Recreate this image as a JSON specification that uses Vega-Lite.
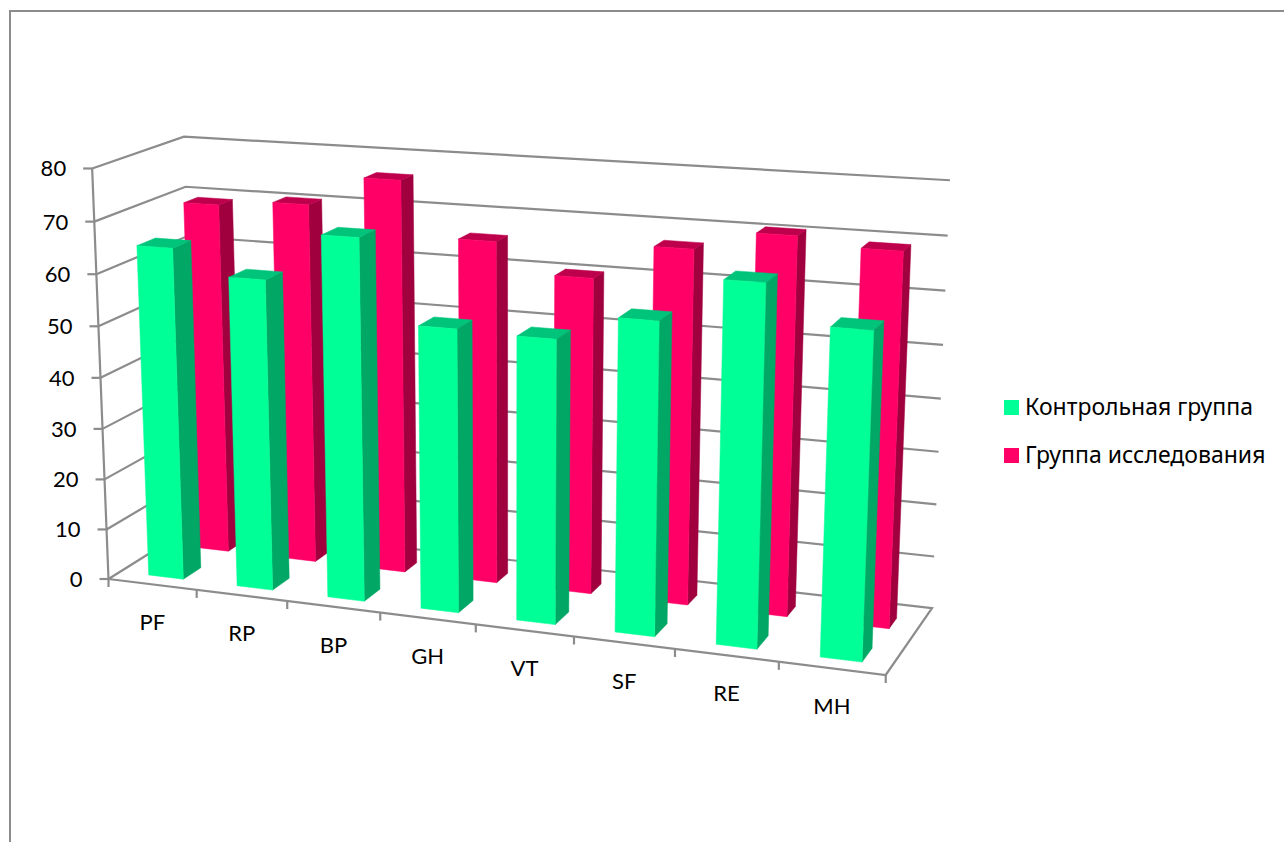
{
  "$schema": "https://vega.github.io/schema/vega-lite/v6.json",
  "width": 1280,
  "height": 840,
  "padding": {"left": 10, "top": 11, "right": 0, "bottom": 0},
  "autosize": {"type": "none"},
  "background": "#ffffff",
  "view": {"stroke": "#8c8c8c", "strokeWidth": 2, "fill": "#ffffff"},
  "datasets": {
    "scores": [
      {"cat": "PF", "idx": 0, "group": "Группа исследования", "value": 69.7},
      {"cat": "RP", "idx": 1, "group": "Группа исследования", "value": 70.9},
      {"cat": "BP", "idx": 2, "group": "Группа исследования", "value": 76.7},
      {"cat": "GH", "idx": 3, "group": "Группа исследования", "value": 66.3},
      {"cat": "VT", "idx": 4, "group": "Группа исследования", "value": 60.7},
      {"cat": "SF", "idx": 5, "group": "Группа исследования", "value": 67.4},
      {"cat": "RE", "idx": 6, "group": "Группа исследования", "value": 71.1},
      {"cat": "MH", "idx": 7, "group": "Группа исследования", "value": 69.6},
      {"cat": "PF", "idx": 0, "group": "Контрольная группа", "value": 64.9},
      {"cat": "RP", "idx": 1, "group": "Контрольная группа", "value": 60.2},
      {"cat": "BP", "idx": 2, "group": "Контрольная группа", "value": 69.4},
      {"cat": "GH", "idx": 3, "group": "Контрольная группа", "value": 53.9},
      {"cat": "VT", "idx": 4, "group": "Контрольная группа", "value": 53.5},
      {"cat": "SF", "idx": 5, "group": "Контрольная группа", "value": 58.3},
      {"cat": "RE", "idx": 6, "group": "Контрольная группа", "value": 66.5},
      {"cat": "MH", "idx": 7, "group": "Контрольная группа", "value": 59.6}
    ],
    "valueTicks": [
      {"value": 0}, {"value": 10}, {"value": 20}, {"value": 30}, {"value": 40},
      {"value": 50}, {"value": 60}, {"value": 70}, {"value": 80}
    ],
    "categoryTicks": [
      {"boundary": 0}, {"boundary": 1}, {"boundary": 2}, {"boundary": 3}, {"boundary": 4},
      {"boundary": 5}, {"boundary": 6}, {"boundary": 7}, {"boundary": 8}
    ]
  },
  "encoding": {
    "x": {"field": "screenX", "type": "quantitative", "axis": null, "scale": {"domain": [10, 1290], "range": [0, 1280], "nice": false, "zero": false}},
    "y": {"field": "screenY", "type": "quantitative", "axis": null, "scale": {"domain": [11, 851], "range": [0, 840], "nice": false, "zero": false}}
  },
  "layer": [
    {
      "description": "Wall gridlines; the zero line also closes the floor outline",
      "data": {"name": "valueTicks"},
      "transform": [
        {"calculate": "datum.value == 0 ? [[0,0,0],[1,0,1],[2,1,1],[3,1,0],[4,0,0]] : [[0,0,0],[1,0,1],[2,1,1]]", "as": "pt"},
        {"flatten": ["pt"]},
        {"calculate": "datum.pt[0]", "as": "n"},
        {"calculate": "datum.pt[1]", "as": "s"},
        {"calculate": "datum.pt[2]", "as": "t"},
        {"calculate": "datum.value/80", "as": "z"},
        {"calculate": "(108.5+685.1*datum.s+99.75*datum.t-19.95*datum.z)/(1-0.104*datum.s+0.0625*datum.t-0.0391*datum.z)", "as": "screenX"},
        {"calculate": "(579+25.8*datum.s-22*datum.t-417.1*datum.z)/(1-0.104*datum.s+0.0625*datum.t-0.0391*datum.z)", "as": "screenY"}
      ],
      "mark": {"type": "line", "stroke": "#8c8c8c", "strokeWidth": 2.2},
      "encoding": {"detail": {"field": "value"}, "order": {"field": "n"}}
    },
    {
      "description": "Value axis line",
      "data": {"name": "valueTicks"},
      "transform": [
        {"calculate": "(108.5-19.95*datum.value/80)/(1-0.0391*datum.value/80)", "as": "screenX"},
        {"calculate": "(579-417.1*datum.value/80)/(1-0.0391*datum.value/80)", "as": "screenY"}
      ],
      "mark": {"type": "line", "stroke": "#8c8c8c", "strokeWidth": 2.2},
      "encoding": {"order": {"field": "value"}}
    },
    {
      "description": "Value axis tick marks",
      "data": {"name": "valueTicks"},
      "transform": [
        {"calculate": "[0,1]", "as": "n"},
        {"flatten": ["n"]},
        {"calculate": "(108.5-19.95*datum.value/80)/(1-0.0391*datum.value/80)-9*datum.n", "as": "screenX"},
        {"calculate": "(579-417.1*datum.value/80)/(1-0.0391*datum.value/80)", "as": "screenY"}
      ],
      "mark": {"type": "line", "stroke": "#8c8c8c", "strokeWidth": 2.2},
      "encoding": {"detail": {"field": "value"}, "order": {"field": "n"}}
    },
    {
      "description": "Category axis tick marks",
      "data": {"name": "categoryTicks"},
      "transform": [
        {"calculate": "[0,1]", "as": "n"},
        {"flatten": ["n"]},
        {"calculate": "datum.boundary/8", "as": "s"},
        {"calculate": "(108.5+685.1*datum.s)/(1-0.104*datum.s)", "as": "screenX"},
        {"calculate": "(579+25.8*datum.s)/(1-0.104*datum.s)+8*datum.n", "as": "screenY"}
      ],
      "mark": {"type": "line", "stroke": "#8c8c8c", "strokeWidth": 2.2},
      "encoding": {"detail": {"field": "boundary"}, "order": {"field": "n"}}
    },
    {
      "description": "Value axis labels",
      "data": {"name": "valueTicks"},
      "transform": [
        {"calculate": "(108.5-19.95*datum.value/80)/(1-0.0391*datum.value/80)", "as": "screenX"},
        {"calculate": "(579-417.1*datum.value/80)/(1-0.0391*datum.value/80)", "as": "screenY"}
      ],
      "mark": {"type": "text", "align": "right", "baseline": "middle", "dx": -26, "dy": 1, "font": "Lato", "fontSize": 22, "fill": "#000000"},
      "encoding": {"text": {"field": "value"}}
    },
    {
      "description": "Category labels",
      "data": {"name": "scores"},
      "transform": [
        {"filter": "datum.group == 'Контрольная группа'"},
        {"calculate": "(datum.idx+0.5)/8", "as": "s"},
        {"calculate": "(108.5+685.1*datum.s)/(1-0.104*datum.s)", "as": "screenX"},
        {"calculate": "(579+25.8*datum.s)/(1-0.104*datum.s)", "as": "screenY"}
      ],
      "mark": {"type": "text", "align": "center", "baseline": "middle", "dy": 39, "font": "Lato", "fontSize": 22, "fill": "#000000"},
      "encoding": {"text": {"field": "cat"}}
    },
    {
      "description": "Column prisms: every bar expands to front, side and top faces in chart space",
      "data": {"name": "scores"},
      "transform": [
        {"calculate": "[{f:'front',n:0,a:0,b:0,c:0},{f:'front',n:1,a:1,b:0,c:0},{f:'front',n:2,a:1,b:0,c:1},{f:'front',n:3,a:0,b:0,c:1},{f:'side',n:0,a:1,b:0,c:0},{f:'side',n:1,a:1,b:1,c:0},{f:'side',n:2,a:1,b:1,c:1},{f:'side',n:3,a:1,b:0,c:1},{f:'top',n:0,a:0,b:0,c:1},{f:'top',n:1,a:1,b:0,c:1},{f:'top',n:2,a:1,b:1,c:1},{f:'top',n:3,a:0,b:1,c:1}]", "as": "corner"},
        {"flatten": ["corner"]},
        {"calculate": "datum.corner.f", "as": "face"},
        {"calculate": "datum.corner.n", "as": "n"},
        {"calculate": "(datum.idx+(datum.group == 'Контрольная группа' ? 0.325 : 0.35)+0.395*datum.corner.a)/8", "as": "s"},
        {"calculate": "(datum.group == 'Контрольная группа' ? 0.13 : 0.63)+(datum.group == 'Контрольная группа' ? 0.2 : 0.16)*datum.corner.b", "as": "t"},
        {"calculate": "datum.value*datum.corner.c/80", "as": "z"},
        {"calculate": "(108.5+685.1*datum.s+99.75*datum.t-19.95*datum.z)/(1-0.104*datum.s+0.0625*datum.t-0.0391*datum.z)", "as": "screenX"},
        {"calculate": "(579+25.8*datum.s-22*datum.t-417.1*datum.z)/(1-0.104*datum.s+0.0625*datum.t-0.0391*datum.z)", "as": "screenY"}
      ],
      "layer": [
        {
          "transform": [{"filter": "datum.group == 'Группа исследования' && datum.face == 'side'"}],
          "mark": {"type": "line", "interpolate": "linear-closed", "fill": "#a1003f", "stroke": "#a1003f", "strokeWidth": 0.5},
          "encoding": {"detail": {"field": "cat"}, "order": {"field": "n"}}
        },
        {
          "transform": [{"filter": "datum.group == 'Группа исследования' && datum.face == 'top'"}],
          "mark": {"type": "line", "interpolate": "linear-closed", "fill": "#be004c", "stroke": "#be004c", "strokeWidth": 0.5},
          "encoding": {"detail": {"field": "cat"}, "order": {"field": "n"}}
        },
        {
          "transform": [{"filter": "datum.group == 'Группа исследования' && datum.face == 'front'"}],
          "mark": {"type": "line", "interpolate": "linear-closed", "stroke": "#ff0066", "strokeWidth": 0.5},
          "encoding": {
            "detail": {"field": "cat"},
            "order": {"field": "n"},
            "fill": {"field": "group", "type": "nominal", "scale": {"domain": ["Контрольная группа", "Группа исследования"], "range": ["#00ff96", "#ff0066"]},
              "legend": {"title": null, "orient": "none", "legendX": 990, "legendY": 385, "symbolType": "square", "symbolSize": 225, "symbolStrokeWidth": 0, "labelFont": "Noto Sans", "labelFontSize": 23, "labelColor": "#000000", "labelLimit": 400, "rowPadding": 24, "labelOffset": 2}}
          }
        },
        {
          "transform": [{"filter": "datum.group == 'Контрольная группа' && datum.face == 'side'"}],
          "mark": {"type": "line", "interpolate": "linear-closed", "fill": "#00a765", "stroke": "#00a765", "strokeWidth": 0.5},
          "encoding": {"detail": {"field": "cat"}, "order": {"field": "n"}}
        },
        {
          "transform": [{"filter": "datum.group == 'Контрольная группа' && datum.face == 'top'"}],
          "mark": {"type": "line", "interpolate": "linear-closed", "fill": "#00c47a", "stroke": "#00c47a", "strokeWidth": 0.5},
          "encoding": {"detail": {"field": "cat"}, "order": {"field": "n"}}
        },
        {
          "transform": [{"filter": "datum.group == 'Контрольная группа' && datum.face == 'front'"}],
          "mark": {"type": "line", "interpolate": "linear-closed", "stroke": "#00ff96", "strokeWidth": 0.5},
          "encoding": {
            "detail": {"field": "cat"},
            "order": {"field": "n"},
            "fill": {"field": "group", "type": "nominal"}
          }
        }
      ]
    }
  ]
}
